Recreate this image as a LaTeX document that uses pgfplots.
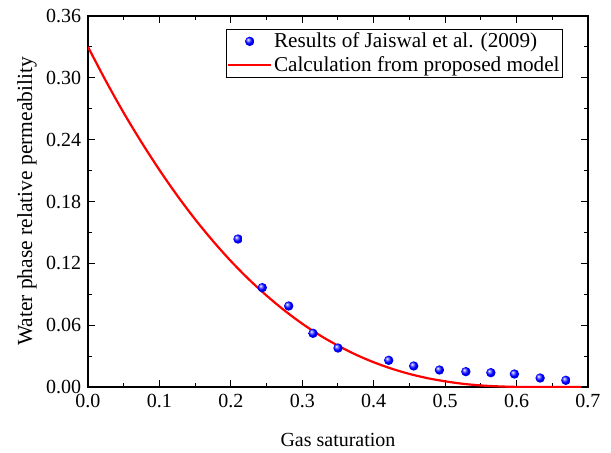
\documentclass[border=0pt]{standalone}
\usepackage{fontspec}
\setmainfont{Liberation Serif}
\usepackage{pgfplots}
\pgfplotsset{compat=1.18}
\pgfdeclareradialshading{bballshade}{\pgfpoint{-10bp}{10bp}}{%
  color(0bp)=(white); color(8bp)=(blue!55!white); color(17bp)=(blue);
  color(25bp)=(blue!85!black); color(50bp)=(blue!60!black)}
\pgfdeclareplotmark{bball}{%
  \pgfpathcircle{\pgfpointorigin}{\pgfplotmarksize}%
  \pgfshadepath{bballshade}{0}%
  \pgfusepath{}}
\pgfplotsset{
  longleg/.style={legend image code/.code={\draw[mark repeat=2,mark phase=2,##1] plot coordinates {(0cm,0cm) (0.75cm,0cm) (1.5cm,0cm)};}},
}
\begin{document}
\fontsize{20bp}{24bp}\selectfont
\begin{tikzpicture}
\begin{axis}[
  scale only axis, width=500bp, height=371bp,
  xmin=0, xmax=0.7, ymin=0, ymax=0.36,
  xtick={0,0.1,0.2,0.3,0.4,0.5,0.6,0.7},
  ytick={0,0.06,0.12,0.18,0.24,0.30,0.36},
  minor x tick num=1, minor y tick num=1,
  tick align=inside,
  major tick length=7bp, minor tick length=4bp,
  axis line style={line width=1.2bp},
  every tick/.style={black, line width=1bp},
  /pgf/number format/assume math mode=true,
  xticklabel style={/pgf/number format/.cd, fixed, fixed zerofill, precision=1},
  yticklabel style={/pgf/number format/.cd, fixed, fixed zerofill, precision=2},
  scaled y ticks=false,
  xlabel={Gas saturation},
  ylabel={Water phase relative permeability},
  xlabel style={at={(axis description cs:0.5,-0.143)}, anchor=center},
  ylabel style={at={(axis description cs:-0.122,0.5)}, anchor=center,
    font=\fontsize{21.5bp}{26bp}\selectfont},
  legend style={at={(0.95,0.965)}, anchor=north east, draw=black, line width=0.8bp,
    inner sep=1bp, row sep=2bp, cells={anchor=west},
    font=\fontsize{21.2bp}{24bp}\selectfont},
  legend cell align=left,
]
\addplot[only marks, mark=bball, mark size=4.7bp, longleg]
  coordinates {
  (0.210,0.1436) (0.244,0.0964) (0.281,0.0786) (0.315,0.0521) (0.350,0.0378)
  (0.421,0.0259) (0.456,0.0204) (0.492,0.0165) (0.529,0.0149) (0.564,0.0139)
  (0.597,0.0126) (0.633,0.0087) (0.669,0.0065)};
\addlegendentry{Results of Jaiswal et al. (2009)}
\addplot[red, line width=2.2bp, smooth, longleg]
  coordinates {
  (0,0.330) (0.025,0.297) (0.05,0.266) (0.075,0.2374) (0.1,0.2106) (0.125,0.1857)
  (0.15,0.1627) (0.175,0.1416) (0.2,0.1222) (0.225,0.1046) (0.25,0.0887)
  (0.275,0.0743) (0.3,0.0614) (0.325,0.0500) (0.35,0.0401) (0.375,0.0314)
  (0.4,0.0240) (0.425,0.0178) (0.45,0.0127) (0.475,0.0086) (0.5,0.0055)
  (0.525,0.0031) (0.55,0.0015) (0.575,0.0006) (0.6,0.0001) (0.625,0) (0.69,0)};
\addlegendentry{Calculation from proposed model}
\end{axis}
\pgfresetboundingbox
\path (-88bp,-66bp) rectangle (523bp,387bp);
\end{tikzpicture}
\end{document}
